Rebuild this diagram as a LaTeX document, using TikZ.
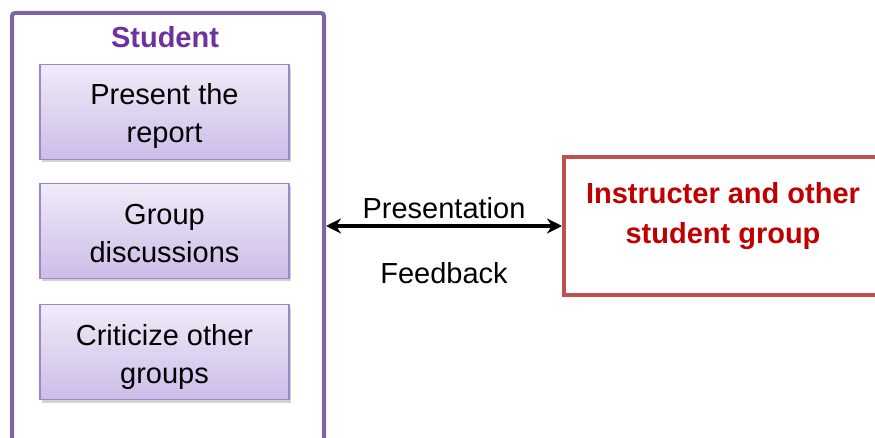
\documentclass[tikz,border=0pt]{standalone}
\usepackage{fontspec}
\setmainfont{Liberation Sans}
\usetikzlibrary{arrows.meta}
\usetikzlibrary{shadows}
\definecolor{stuline}{HTML}{8064A2}
\definecolor{stutext}{HTML}{7030A0}
\definecolor{taskline}{HTML}{9F86C9}
\definecolor{tasktop}{HTML}{F0EBF8}
\definecolor{taskbot}{HTML}{CDBCE8}
\definecolor{insline}{HTML}{C0504D}
\definecolor{instext}{HTML}{C00000}
\begin{document}
\begin{tikzpicture}[x=1pt, y=-1pt, >={Stealth[length=15pt,width=15pt]},
  taskbox/.style={draw=taskline, line width=1.3pt, top color=tasktop, bottom color=taskbot,
    minimum width=249pt, minimum height=95pt, align=center, text height=62pt, text depth=0pt,
    font=\fontsize{29}{38}\selectfont,
    drop shadow={opacity=0.35, shadow xshift=2pt, shadow yshift=-3pt}},
  big/.style={font=\fontsize{29}{40}\selectfont\bfseries, align=center},
]
\useasboundingbox (0,0) rectangle (875,438);
\node[draw=stuline, line width=4pt, rounded corners=3pt, minimum width=312pt,
  minimum height=470pt, anchor=north west] (stud) at (10,11) {};
\node[big, text=stutext] (studtitle) at (165,37) {Student};
\node[taskbox] (present) at (164.5,112) {Present the\\report};
\node[taskbox] (discuss) at (164.5,231) {Group\\discussions};
\node[taskbox] (critic) at (164.5,352) {Criticize other\\groups};
\node[draw=insline, line width=4pt, minimum width=330pt, minimum height=138pt,
  anchor=north west] (instr) at (562,155) {};
\node[big, text=instext] (instrtitle) at (723,216) {Instructer and other\\student group};
 \draw[<->, line width=4pt] (stud.east |- instr.west) -- (instr.west)
   node[midway, yshift=18pt, font=\fontsize{29}{38}\selectfont]{Presentation}
   node[midway, yshift=-47pt, font=\fontsize{29}{38}\selectfont]{Feedback};
\end{tikzpicture}
\end{document}
